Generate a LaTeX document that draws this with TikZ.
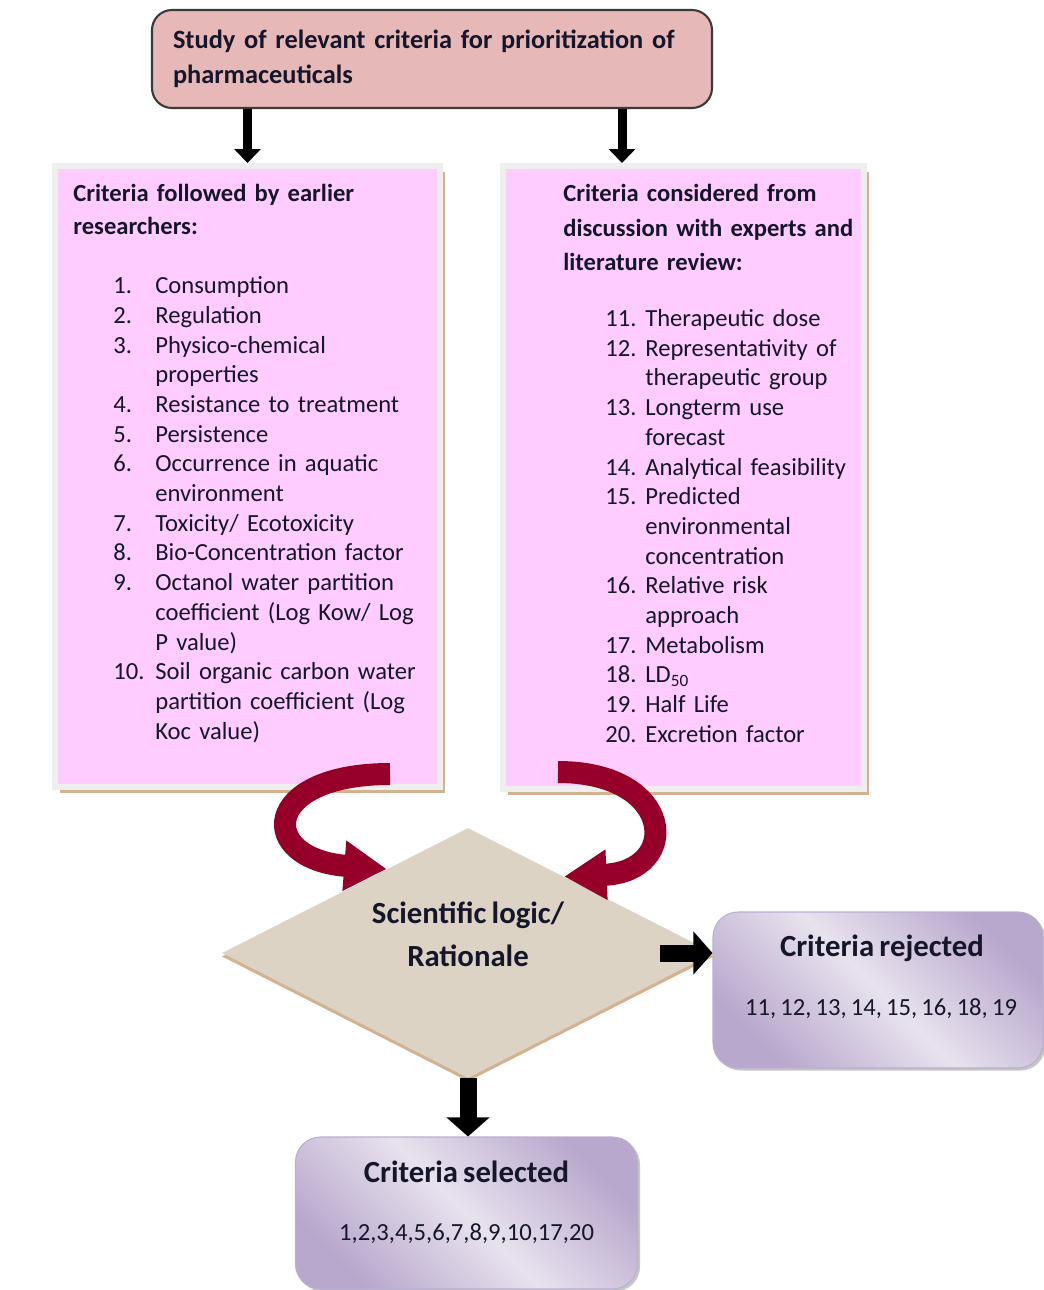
\documentclass[tikz,border=0pt]{standalone}
\usepackage{fontspec}
\setmainfont[WordSpace=0.75]{Carlito}
\usetikzlibrary{positioning,calc,arrows.meta,shapes.geometric,shadows}

\definecolor{studyfill}{HTML}{E6B8B7}
\definecolor{studyedge}{HTML}{3A3A3A}
\definecolor{pinkfill}{HTML}{FFCCFF}
\definecolor{framegray}{HTML}{EEEEEE}
\definecolor{tanedge}{HTML}{D3B28F}
\definecolor{stonefill}{HTML}{DCD3C5}
\definecolor{ribbonred}{HTML}{960028}
\definecolor{lavdark}{HTML}{B8A8CD}
\definecolor{lavlight}{HTML}{E8E2EE}
\definecolor{lavedge}{HTML}{BBAED0}
\definecolor{inktext}{HTML}{16162A}

\newlength{\numwd}
\newlength{\listind}
\newcommand{\critem}[2]{\par\hangindent=\dimexpr\listind+\numwd\relax\hangafter=1\noindent\hspace*{\listind}\makebox[\numwd][l]{#1}#2}

\begin{document}
\begin{tikzpicture}[
  critbox/.style={rectangle, fill=pinkfill, draw=framegray, line width=0.12cm, inner sep=0pt,
    drop shadow={shadow xshift=0.1cm, shadow yshift=-0.12cm, fill=tanedge, opacity=1}},
  crittext/.style={anchor=north west, inner sep=0pt, text=inktext, font=\fontsize{14}{16.9}\selectfont},
  blkarrow/.style={line width=0.18cm, -{Triangle[width=0.52cm,length=0.28cm]}},
  fatarrow/.style={line width=0.34cm, -{Triangle[width=0.84cm,length=0.38cm]}},
  ribbon/.style={draw=ribbonred, line width=0.44cm, -{Triangle[width=0.95cm,length=0.85cm]}},
  resultbox/.style={rectangle, rounded corners=0.5cm, draw=lavedge, line width=0.6pt,
    top color=lavdark, bottom color=lavdark, middle color=lavlight, shading angle=-45,
    drop shadow={shadow xshift=0.05cm, shadow yshift=-0.05cm, fill=gray!45, opacity=1}},
  restitle/.style={text=inktext, font=\fontsize{17.5}{21}\selectfont\bfseries},
  resnums/.style={text=inktext, font=\fontsize{14}{17}\selectfont}
]
\useasboundingbox (0,0) rectangle (20.88,-25.8);

% study box
\node[rectangle, rounded corners=0.4cm, fill=studyfill, draw=studyedge, line width=1.2pt,
  minimum height=1.96cm, text width=10.36cm, inner xsep=0.42cm, align=left, text=inktext,
  font=\fontsize{15}{19.9}\selectfont\bfseries] (study) at (8.64,-1.18)
  {Study of relevant criteria for prioritization of\\pharmaceuticals};

% criteria boxes
\node[critbox, minimum width=7.7cm, minimum height=12.42cm] (leftbox) at (4.95,-9.53) {};
\node[critbox, minimum width=7.22cm, minimum height=12.46cm] (rightbox) at (13.67,-9.55) {};

\node[crittext, text width=7.3cm] (lefttext) at ([xshift=0.42cm,yshift=-0.42cm]leftbox.north west) {%
  \raggedright\setlength{\listind}{0.8cm}\setlength{\numwd}{0.84cm}%
  {\fontsize{14}{18.8}\selectfont\bfseries Criteria followed by earlier\newline researchers:\par}
  \vspace{16.7pt}
  \critem{1.}{Consumption}
  \critem{2.}{Regulation}
  \critem{3.}{Physico-chemical\newline properties}
  \critem{4.}{Resistance to treatment}
  \critem{5.}{Persistence}
  \critem{6.}{Occurrence in aquatic\newline environment}
  \critem{7.}{Toxicity/ Ecotoxicity}
  \critem{8.}{Bio-Concentration factor}
  \critem{9.}{Octanol water partition\newline coefficient (Log Kow/ Log\newline P value)}
  \critem{10.}{Soil organic carbon water\newline partition coefficient (Log\newline Koc value)}\par};

\node[crittext, text width=6.1cm] (righttext) at ([xshift=1.26cm,yshift=-0.42cm]rightbox.north west) {%
  \raggedright\setlength{\listind}{0.84cm}\setlength{\numwd}{0.8cm}%
  {\fontsize{14}{19.6}\selectfont\bfseries Criteria considered from\newline discussion with experts and\newline literature review:\par}
  \vspace{15pt}
  \critem{11.}{Therapeutic dose}
  \critem{12.}{Representativity of\newline therapeutic group}
  \critem{13.}{Longterm use\newline forecast}
  \critem{14.}{Analytical feasibility}
  \critem{15.}{Predicted\newline environmental\newline concentration}
  \critem{16.}{Relative risk\newline approach}
  \critem{17.}{Metabolism}
  \critem{18.}{LD\textsubscript{50}}
  \critem{19.}{Half Life}
  \critem{20.}{Excretion factor}\par};

% arrows from the study box
\coordinate (rarrow) at ([xshift=-1.23cm]rightbox.north);
\draw[blkarrow] (study.south -| leftbox.north) -- (leftbox.north);
\draw[blkarrow] (rarrow |- study.south) -- (rarrow);

% decision
\node[diamond, aspect=2, minimum width=9.84cm, minimum height=5cm, inner sep=0pt, fill=stonefill,
  drop shadow={shadow xshift=0cm, shadow yshift=-0.07cm, fill=tanedge, opacity=1}] (logic) at (9.36,-19.06) {};
\node[text=inktext, font=\fontsize{17.5}{24.5}\selectfont\bfseries, align=center] (logictext)
  at ([yshift=0.37cm]logic.center) {Scientific logic/\\Rationale};

\coordinate (lstart) at ([xshift=-1.06cm,yshift=0.32cm]leftbox.south east);
\coordinate (rstart) at ([xshift=1.16cm,yshift=0.4cm]rightbox.south west);
\draw[ribbon] (lstart) .. controls +(-2.6,0) and +(-2.6,0.2) .. ($(logic.north)!0.33!(logic.west)$);
\draw[ribbon] (rstart) .. controls +(2.35,0) and +(2.35,0.1) .. ($(logic.north)!0.39!(logic.east)$);

% results
\node[resultbox, minimum width=6.6cm, minimum height=3.12cm] (rej) at (17.56,-19.8) {};
\node[restitle] (rejtitle) at ([yshift=-0.74cm,xshift=0.08cm]rej.north) {Criteria rejected};
\node[resnums] (rejnums) at ([yshift=-1.94cm,xshift=0.06cm]rej.north) {11, 12, 13, 14, 15, 16, 18, 19};

\node[resultbox, minimum width=6.84cm, minimum height=3.04cm] (sel) at (9.33,-24.26) {};
\node[restitle] (seltitle) at ([yshift=-0.7cm]sel.north) {Criteria selected};
\node[resnums] (selnums) at ([yshift=-1.94cm]sel.north) {1,2,3,4,5,6,7,8,9,10,17,20};

\draw[fatarrow] ([xshift=-1.08cm]logic.east) -- (logic.east -| rej.west);
\draw[fatarrow] (logic.south) -- (logic.south |- sel.north);
\end{tikzpicture}
\end{document}
